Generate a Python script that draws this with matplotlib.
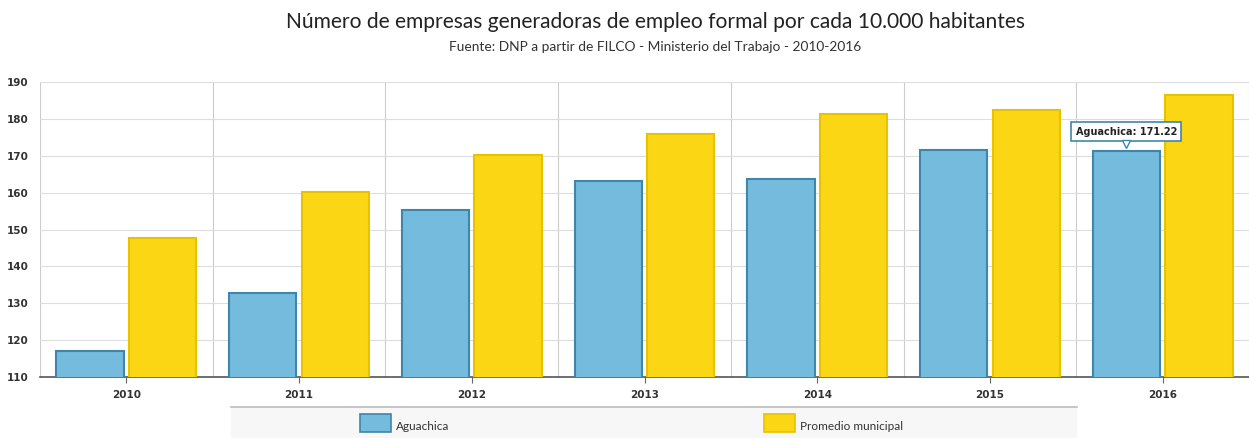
import matplotlib
matplotlib.use("Agg")
import matplotlib.pyplot as plt
from matplotlib.patches import Rectangle
import numpy as np

years = ["2010", "2011", "2012", "2013", "2014", "2015", "2016"]
aguachica = [117.0, 132.8, 155.3, 163.1, 163.6, 171.5, 171.22]
promedio = [147.7, 160.1, 170.2, 175.9, 181.3, 182.4, 186.4]
series_names = ["Aguachica", "Promedio municipal"]
yticks = [110, 120, 130, 140, 150, 160, 170, 180, 190]

fig = plt.figure(figsize=(12.49, 4.38), dpi=100)
ax = fig.add_axes([40/1249, 1-377/438, 1-40/1249, (377-82)/438])

x = np.arange(len(years))
w = 0.39
gap = 0.015
blue_face, blue_edge = "#74bbdd", "#3f86ab"
yel_face, yel_edge = "#fbd614", "#e6c200"
ax.bar(x - w/2 - gap, aguachica, width=w, color=blue_face,
       edgecolor=blue_edge, linewidth=1.5, zorder=3)
ax.bar(x + w/2 + gap, promedio, width=w, color=yel_face,
       edgecolor=yel_edge, linewidth=1.5, zorder=3)

ax.set_ylim(110, 190)
ax.set_xlim(-0.5, len(years) - 0.5)
ax.set_yticks(yticks)
ax.set_yticklabels([str(t) for t in yticks], fontsize=7.5, fontweight="bold", color="#333333")
ax.set_xticks(x)
ax.set_xticklabels(years, fontsize=7.5, fontweight="bold", color="#333333")
ax.tick_params(axis="y", length=0, pad=8)
ax.tick_params(axis="x", length=4, color="#666666", pad=5)

ax.set_xticks(np.arange(-0.5, len(years)), minor=True)
ax.tick_params(axis="x", which="minor", length=0)
ax.grid(axis="y", which="major", color="#dddddd", linewidth=0.8, zorder=0)
ax.grid(axis="x", which="minor", color="#cccccc", linewidth=0.8, zorder=0)
ax.grid(axis="x", which="major", visible=False)
for s in ["top", "right", "left"]:
    ax.spines[s].set_visible(False)
ax.spines["bottom"].set_color("#555555")
ax.spines["bottom"].set_linewidth(1.2)

# tooltip
tx = 6 - w/2 - gap
ax.text(tx, aguachica[6] + 5.3, "Aguachica: 171.22", ha="center", va="center",
        fontsize=7, fontweight="bold", color="#222222", zorder=6,
        bbox=dict(boxstyle="square,pad=0.45", fc="white", ec="#3f86ab", lw=1.2))
ax.plot([tx], [aguachica[6] + 1.9], marker="v", markersize=6, color="white",
        markeredgecolor="#3f86ab", markeredgewidth=1.0, zorder=7, clip_on=False)

fig.text(655/1249, 1-22/438, "Número de empresas generadoras de empleo formal por cada 10.000 habitantes",
         ha="center", va="center", fontsize=15.1, family="Lato", color="#222222")
fig.text(655/1249, 1-47/438, "Fuente: DNP a partir de FILCO - Ministerio del Trabajo - 2010-2016",
         ha="center", va="center", fontsize=9.9, family="Lato", color="#333333")

# legend box
fig.patches.append(Rectangle((231/1249, 0), (1077-231)/1249, 31/438, transform=fig.transFigure,
                             fc="#f7f7f7", ec="none", zorder=0))
fig.add_artist(plt.Line2D([231/1249, 1077/1249], [31/438, 31/438], transform=fig.transFigure,
                          color="#bbbbbb", lw=1.2))
for (lx, face, edge, name) in [(360, blue_face, blue_edge, series_names[0]),
                               (764, yel_face, yel_edge, series_names[1])]:
    fig.patches.append(Rectangle((lx/1249, 1-432/438), 31/1249, 18/438, transform=fig.transFigure,
                                 fc=face, ec=edge, lw=1.2))
    fig.text((lx+36)/1249, 1-427/438, name, ha="left", va="center", fontsize=8.5,
             family="Lato", color="#333333")

fig.savefig("out.png", dpi=100)
